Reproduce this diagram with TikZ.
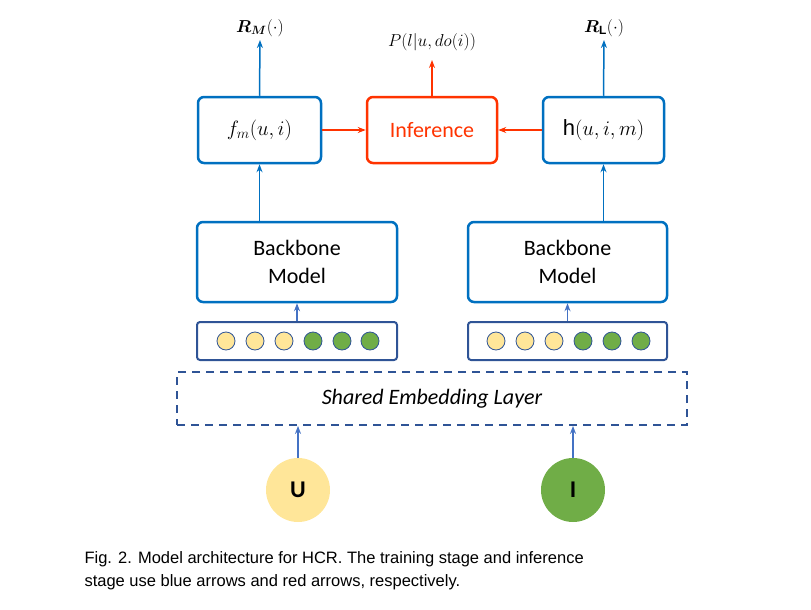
\documentclass[tikz,border=0pt]{standalone}
\usepackage{amsmath}
\usepackage{fontspec}
\setmainfont{Liberation Sans}
\newfontfamily\carl{Carlito}
\usetikzlibrary{arrows.meta}
\definecolor{bl}{RGB}{0,112,192}
\definecolor{rd}{RGB}{255,51,0}
\definecolor{nv}{RGB}{47,84,150}
\definecolor{yl}{RGB}{255,230,153}
\definecolor{gr}{RGB}{112,173,71}
\definecolor{ar}{RGB}{68,114,196}
\begin{document}
\begin{tikzpicture}[x=1pt,y=-1pt,
 box/.style={draw=bl,line width=2.5pt,rounded corners=6pt,font=\carl\fontsize{22}{26}\selectfont,align=center,inner sep=0},
 strip/.style={draw=nv,line width=2pt,rounded corners=3pt},
 ba/.style={-{Stealth[length=8pt,width=6pt]},line width=1.5pt,draw=bl},
 ra/.style={-{Stealth[length=8pt,width=6pt]},line width=1.5pt,draw=rd},
 yc/.style={circle,fill=yl,draw=nv,line width=0.8pt,minimum size=18pt,inner sep=0},
 gc/.style={circle,fill=gr,draw=nv,line width=0.8pt,minimum size=18pt,inner sep=0}]
\useasboundingbox (0,0) rectangle (811,610);
\node[box,minimum width=123pt,minimum height=66pt] (fm) at (259.5,130) {$f_m(u,i)$};
\node[box,draw=rd,text=rd,minimum width=130pt,minimum height=66pt] (inf) at (432,130) {Inference};
\node[box,minimum width=121pt,minimum height=66pt] (h) at (603.5,130) {$\mathrm{h}(u,i,m)$};
\node[box,minimum width=200pt,minimum height=80pt] (bbl) at (297,262) {Backbone\\[2pt]Model};
\node[box,minimum width=199pt,minimum height=80pt] (bbr) at (567.5,262) {Backbone\\[2pt]Model};
\node[strip,minimum width=200pt,minimum height=38pt] (sl) at (297,341) {};
\node[strip,minimum width=199pt,minimum height=38pt] (sr) at (567.5,341) {};
\foreach \x/\s/\n in {226/yc/a,255/yc/b,284/yc/c,313/gc/d,342/gc/e,370/gc/f}{\node[\s] (l\n) at (\x,341) {};}
\foreach \x/\s/\n in {496/yc/a,525/yc/b,554/yc/c,583/gc/d,612/gc/e,641/gc/f}{\node[\s] (r\n) at (\x,341) {};}
\node[draw=nv,dashed,dash pattern=on 8pt off 6pt,line width=1.8pt,minimum width=510pt,minimum height=53pt,font=\carl\itshape\fontsize{22}{26}\selectfont] (emb) at (432,398.5) {Shared Embedding Layer};
\node[circle,fill=yl,minimum size=64pt,font=\carl\bfseries\fontsize{24}{28}\selectfont] (U) at (298,490) {U};
\node[circle,fill=gr,minimum size=64pt,font=\carl\bfseries\fontsize{24}{28}\selectfont] (I) at (573,490) {I};
\node[font=\fontsize{17}{20}\selectfont] (RM) at (260,28) {$\boldsymbol{R_M}(\cdot)$};
\node[font=\fontsize{17}{20}\selectfont] (P) at (432,42) {$P(l|u,do(i))$};
\node[font=\fontsize{17}{20}\selectfont] (RL) at (604,28) {$\boldsymbol{R}_{\mathbf{L}}(\cdot)$};
\coordinate (rmc) at (260,40); \coordinate (rlc) at (604,40); \coordinate (pc) at (432,60);
\draw[ba,draw=ar] (U) -- (U|-emb.south);
\draw[ba,draw=ar] (I) -- (I|-emb.south);
\draw[ba,draw=ar] (sl.north) -- (bbl.south);
\draw[ba,draw=ar] (sr.north) -- (bbr.south);
\draw[ba] (bbl.north-|fm) -- (fm.south);
\draw[ba] (bbr.north-|h) -- (h.south);
\draw[ba] (fm.north) -- (rmc);
\draw[ba] (h.north) -- (rlc);
\draw[ra] (inf.north) -- (pc);
\draw[ra] (fm.east) -- (inf.west);
\draw[ra] (h.west) -- (inf.east);
\node[anchor=west,font=\fontsize{16.5}{23}\selectfont,align=left] (cap) at (81,571) {Fig. 2. Model architecture for HCR. The training stage and inference\\stage use blue arrows and red arrows, respectively.};
\end{tikzpicture}
\end{document}
